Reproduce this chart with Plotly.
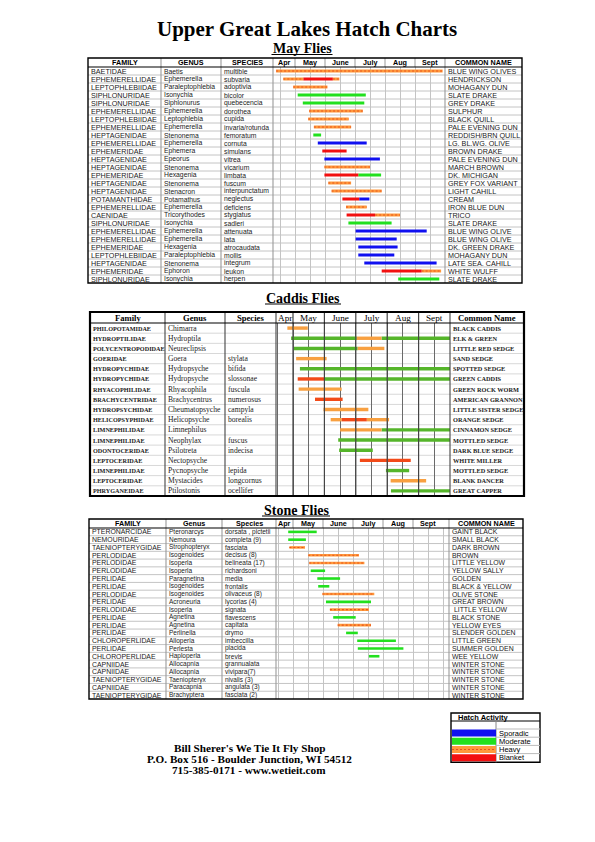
import plotly.graph_objects as go

W, H = 595, 842
OFF = 8  # default page body margin of the browser

# ---------------- DATA ----------------
month_labels = ["Apr", "May", "June", "July", "Aug", "Sept"]
month_centers = [4.62, 5.5, 6.5, 7.5, 8.5, 9.5]

level_names = ["Sporadic", "Moderate", "Heavy", "Blanket"]

may_family = ["BAETIDAE", "EPHEMERELLIDAE", "LEPTOPHLEBIIDAE", "SIPHLONURIDAE", "SIPHLONURIDAE",
              "EPHEMERELLIDAE", "LEPTOPHLEBIIDAE", "EPHEMERELLIDAE", "HEPTAGENIDAE", "EPHEMERELLIDAE",
              "EPHEMERIDAE", "HEPTAGENIDAE", "HEPTAGENIDAE", "EPHEMERIDAE", "HEPTAGENIDAE",
              "HEPTAGENIDAE", "POTAMANTHIDAE", "EPHEMERELLIDAE", "CAENIDAE", "SIPHLONURIDAE",
              "EPHEMERELLIDAE", "EPHEMERELLIDAE", "EPHEMERIDAE", "LEPTOPHLEBIIDAE", "HEPTAGENIDAE",
              "EPHEMERIDAE", "SIPHLONURIDAE"]
may_genus = ["Baetis", "Ephemerella", "Paraleptophlebia", "Isonychia", "Siphlonurus",
             "Ephemerella", "Leptophlebia", "Ephemerella", "Stenonema", "Ephemerella",
             "Ephemera", "Epeorus", "Stenonema", "Hexagenia", "Stenonema",
             "Stenacron", "Potamathus", "Ephemerella", "Tricorythodes", "Isonychia",
             "Ephemerella", "Ephemerella", "Hexagenia", "Paraleptophlebia", "Stenonema",
             "Ephoron", "Isonychia"]
may_species = ["multible", "subvaria", "adoptivia", "bicolor", "quebecencia",
               "dorothea", "cupida", "invaria/rotunda", "femoratum", "cornuta",
               "simulans", "vitrea", "vicarium", "limbata", "fuscum",
               "interpunctatum", "neglectus", "deficiens", "stygiatus", "sadleri",
               "attenuata", "lata", "atrocaudata", "mollis", "integrum",
               "leukon", "herpen"]
may_common = ["BLUE WING OLIVES", "HENDRICKSON", "MOHAGANY DUN", "SLATE DRAKE", "GREY DRAKE",
              "SULPHUR", "BLACK QUILL", "PALE EVENING DUN", "REDDISH/BRN QUILL", "LG. BL.WG. OLIVE",
              "BROWN DRAKE", "PALE EVENING DUN", "MARCH BROWN", "DK. MICHIGAN", "GREY FOX VARIANT",
              "LIGHT CAHILL", "CREAM", "IRON BLUE DUN", "TRICO", "SLATE DRAKE",
              "BLUE WING OLIVE", "BLUE WING OLIVE", "DK. GREEN DRAKE", "MOHAGANY DUN", "LATE SEA. CAHILL",
              "WHITE WULFF", "SLATE DRAKE"]
# (start month, end month, level)  S=Sporadic M=Moderate H=Heavy B=Blanket
may_bars = [
    [(4.37, 9.92, "H")],
    [(4.61, 5.28, "H"), (5.28, 6.26, "B"), (6.26, 6.48, "H")],
    [(4.94, 6.08, "H")],
    [(5.09, 7.36, "M")],
    [(5.26, 7.31, "M")],
    [(5.47, 7.26, "H")],
    [(5.44, 6.79, "H")],
    [(5.63, 6.87, "H")],
    [(5.61, 5.87, "M")],
    [(5.76, 7.39, "S")],
    [(5.91, 6.72, "B")],
    [(5.98, 7.83, "S")],
    [(5.98, 7.50, "H")],
    [(5.98, 7.11, "B"), (7.11, 7.87, "M")],
    [(6.11, 6.87, "H")],
    [(6.22, 7.89, "H")],
    [(6.58, 7.14, "B"), (7.14, 7.48, "S")],
    [(6.70, 7.39, "H")],
    [(6.72, 7.67, "B"), (7.67, 8.50, "H")],
    [(6.78, 8.22, "M")],
    [(7.02, 9.39, "S")],
    [(7.02, 8.39, "S")],
    [(7.11, 8.42, "S")],
    [(7.11, 8.31, "S")],
    [(7.31, 9.72, "S")],
    [(7.89, 9.22, "B"), (9.22, 9.87, "H")],
    [(8.44, 9.81, "M")],
]

caddis_family = ["PHILOPOTAMIDAE", "HYDROPTILIDAE", "POLYCENTROPODIDAE", "GOERIDAE", "HYDROPYCHIDAE",
                 "HYDROPYCHIDAE", "RHYACOPHILIDAE", "BRACHYCENTRIDAE", "HYDROPSYCHIDAE", "HELICOPSYPHIDAE",
                 "LIMNEPHILIDAE", "LIMNEPHILIDAE", "ODONTOCERIDAE", "LEPTOCERIDAE", "LIMNEPHILIDAE",
                 "LEPTOCERIDAE", "PHRYGANEIDAE"]
caddis_genus = ["Chimarra", "Hydroptila", "Neureclipsis", "Goera", "Hydropsyche",
                "Hydropsyche", "Rhyacophila", "Brachycentrus", "Cheumatopsyche", "Helicopsyche",
                "Limnephilus", "Neophylax", "Psilotreta", "Nectopsyche", "Pycnopsyche",
                "Mystacides", "Ptilostonis"]
caddis_species = ["", "", "", "stylata", "bifida",
                  "slossonae", "fuscula", "numerosus", "campyla", "borealis",
                  "", "fuscus", "indecisa", "", "lepida",
                  "longcornus", "ocellifer"]
caddis_common = ["BLACK CADDIS", "ELK & GREEN", "LITTLE RED SEDGE", "SAND SEDGE", "SPOTTED SEDGE",
                 "GREEN CADDIS", "GREEN ROCK WORM", "AMERICAN GRANNON", "LITTLE SISTER SEDGE", "ORANGE SEDGE",
                 "CINNAMON SEDGE", "MOTTLED SEDGE", "DARK BLUE SEDGE", "WHITE MILLER", "MOTTLED SEDGE",
                 "BLANK DANCER", "GREAT CAPPER"]
caddis_bars = [
    [(4.82, 5.47, "H")],
    [(4.94, 7.03, "M"), (7.03, 7.82, "H"), (7.82, 10.0, "M")],
    [(5.03, 7.06, "M"), (7.06, 7.91, "H")],
    [(5.10, 6.07, "H")],
    [(5.22, 10.0, "M")],
    [(5.15, 6.00, "B"), (6.00, 10.0, "M")],
    [(5.18, 6.55, "H")],
    [(5.70, 6.58, "B")],
    [(5.97, 7.40, "H")],
    [(6.20, 6.55, "H"), (6.55, 7.35, "B"), (7.35, 8.06, "H")],
    [(6.50, 7.82, "H"), (7.82, 10.0, "M")],
    [(6.44, 10.0, "M")],
    [(6.47, 7.54, "M")],
    [(7.13, 8.75, "B")],
    [(7.96, 8.70, "M")],
    [(8.11, 9.24, "H")],
    [(8.12, 10.0, "M")],
]

stone_family = ["PTERONARCIDAE", "NEMOURIDAE", "TAENIOPTERYGIDAE", "PERLODIDAE", "PERLODIDAE",
                "PERLODIDAE", "PERLIDAE", "PERLIDAE", "PERLODIDAE", "PERLIDAE",
                "PERLODIDAE", "PERLIDAE", "PERLIDAE", "PERLIDAE", "CHLOROPERLIDAE",
                "PERLIDAE", "CHLOROPERLIDAE", "CAPNIIDAE", "CAPNIIDAE", "TAENIOPTERYGIDAE",
                "CAPNIIDAE", "TAENIOPTERYGIDAE"]
stone_genus = ["Pteronarcys", "Nemoura", "Strophopteryx", "Isogenoides", "Isoperla",
               "Isoperla", "Paragnetina", "Isogenoides", "Isogenoides", "Acroneuria",
               "Isoperla", "Agnetina", "Agnetina", "Perlinella", "Alloperla",
               "Perlesta", "Haploperla", "Allocapnia", "Allocapnia", "Taeniopteryx",
               "Paracapnia", "Brachyptera"]
stone_species = ["dorsata , pictetii", "completa (9)", "fasciata", "decisus (8)", "belineata (17)",
                 "richardsoni", "media", "frontalis", "olivaceus (8)", "lycorias (4)",
                 "signata", "flavescens", "capitata", "drymo", "imbeccilla",
                 "placida", "brevis", "grannualata", "vivipara(7)", "nivalis (3)",
                 "angulata (3)", "fasciata (2)"]
stone_common = ["GAINT BLACK", "SMALL BLACK", "DARK BROWN", "BROWN", "LITTLE YELLOW",
                "YELLOW SALLY", "GOLDEN", "BLACK & YELLOW", "OLIVE STONE", "GREAT BROWN",
                " LITTLE YELLOW", "BLACK STONE", "YELLOW EYES", "SLENDER GOLDEN", "LITTLE GREEN",
                "SUMMER GOLDEN", "WEE YELLOW", "WINTER STONE", "WINTER STONE", "WINTER STONE",
                "WINTER STONE", "WINTER STONE"]
stone_bars = [
    [(4.84, 5.79, "M")],
    [(4.84, 5.43, "M")],
    [(4.88, 5.40, "H")],
    [(5.51, 7.20, "H")],
    [(5.54, 7.38, "H")],
    [(5.59, 6.07, "M")],
    [(5.81, 6.57, "M")],
    [(5.84, 6.21, "M")],
    [(5.98, 7.71, "H")],
    [(6.10, 7.60, "M")],
    [(6.23, 7.53, "H")],
    [(6.34, 7.09, "M")],
    [(6.49, 7.60, "H")],
    [(6.77, 7.16, "M")],
    [(7.14, 8.43, "M")],
    [(7.16, 8.68, "M")],
    [(7.53, 7.88, "M")],
    [], [], [], [], [],
]

# ---------------- STYLE / LAYOUT ----------------
def fx(x):
    return (x - OFF) / W

def fy(y):
    return 1 - (y - OFF) / H

SANS = "Liberation Sans, Arial, sans-serif"
SERIF = "Liberation Serif, Times New Roman, serif"

tables = [
    dict(family=may_family, genus=may_genus, species=may_species, common=may_common,
         bars=may_bars, left=88, right=522, top=58, hb=67, rowh=8.0,
         cols=[161, 221, 273], mstart=295, mend=445, mpx=30.0,
         font=SANS, fam_size=7.2, gen_size=6.8, com_size=7.2, hfont=SANS, hsize=7.2, upper_bold=False,
         headers=["FAMILY", "GENUS", "SPECIES", "COMMON NAME"], bold_months=True,
         colors=dict(S="#1010F0", M="#22E01E", H="#FF9A3C", B="#F21010"), pattern=True,
         gridc="#c4c4c4", rowc="#c4c4c4", colc="#9a9a9a", lw=3.0, border=1.4),
    dict(family=caddis_family, genus=caddis_genus, species=caddis_species, common=caddis_common,
         bars=caddis_bars, left=90, right=524, top=312, hb=323, rowh=(496 - 323) / 17,
         cols=[165, 225, 276], mstart=293, mend=450, mpx=31.4,
         font=SERIF, fam_size=6.2, gen_size=7.6, com_size=6.3, hfont=SERIF, hsize=8.6, upper_bold=True,
         headers=["Family", "Genus", "Species", "Common Name"], bold_months=False,
         colors=dict(S="#1010F0", M="#55B52A", H="#F8A040", B="#F24A18"), pattern=False,
         gridc="#6a6a6a", rowc="#d8d8d8", colc="#444444", lw=3.4, border=2.2),
    dict(family=stone_family, genus=stone_genus, species=stone_species, common=stone_common,
         bars=stone_bars, left=89, right=523, top=519, hb=528, rowh=(699 - 528) / 22,
         cols=[166, 222, 276], mstart=293, mend=449, mpx=30.0,
         font=SANS, fam_size=6.9, gen_size=6.5, com_size=6.9, hfont=SANS, hsize=7.2, upper_bold=False,
         headers=["FAMILY", "Genus", "Species", "COMMON NAME"], bold_months=True,
         colors=dict(S="#1010F0", M="#22E01E", H="#FF9A3C", B="#F21010"), pattern=True,
         gridc="#c4c4c4", rowc="#c4c4c4", colc="#9a9a9a", lw=2.6, border=1.4),
]

fig = go.Figure()
shapes = []
annotations = []
layout_axes = {}

for ti, t in enumerate(tables):
    n = len(t["family"])
    bottom = t["hb"] + n * t["rowh"]
    suffix = "" if ti == 0 else str(ti + 1)
    xa, ya = "x" + suffix, "y" + suffix
    mleft = t["cols"][2]
    r0 = 5 - (t["mstart"] - mleft) / t["mpx"]
    r1 = 5 + (t["mend"] - t["mstart"]) / t["mpx"]
    layout_axes["xaxis" + suffix] = dict(
        domain=[fx(mleft), fx(t["mend"])], range=[r0, r1], anchor=ya,
        showgrid=True, gridcolor=t["gridc"], gridwidth=1, tick0=4.5, dtick=0.5,
        showticklabels=False, zeroline=False, showline=False, ticks="", fixedrange=True)
    layout_axes["yaxis" + suffix] = dict(
        domain=[fy(bottom), fy(t["hb"])], range=[n - 0.5, -0.5], anchor=xa,
        showgrid=False, showticklabels=False, zeroline=False, showline=False, ticks="", fixedrange=True)

    # bars grouped by activity level
    for lev in ["S", "M", "H", "B"]:
        xs, ys = [], []
        for i, segs in enumerate(t["bars"]):
            for (s, e, l) in segs:
                if l == lev:
                    xs += [s, e, None]
                    ys += [i, i, None]
        if not xs:
            continue
        fig.add_trace(go.Scatter(x=xs, y=ys, xaxis=xa, yaxis=ya, mode="lines",
                                 line=dict(color=t["colors"][lev], width=t["lw"]),
                                 hoverinfo="skip", showlegend=False))
        if lev == "H" and t["pattern"]:
            fig.add_trace(go.Scatter(x=xs, y=ys, xaxis=xa, yaxis=ya, mode="lines",
                                     line=dict(color="#E8521E", width=1.1, dash="2px,2px"),
                                     hoverinfo="skip", showlegend=False))

    # row lines
    for i in range(n - 1):
        shapes.append(dict(type="line", xref="paper", yref=ya, x0=fx(t["left"]), x1=fx(t["right"]),
                           y0=i + 0.5, y1=i + 0.5, line=dict(color=t["rowc"], width=1), layer="below"))
    # column lines
    for c in t["cols"] + [t["mend"]]:
        shapes.append(dict(type="line", xref="paper", yref="paper", x0=fx(c), x1=fx(c),
                           y0=fy(t["top"]), y1=fy(bottom), line=dict(color=t["colc"], width=1.1)))
    # month separators in header (and body for caddis)
    for m in range(5, 10):
        shapes.append(dict(type="line", xref=xa, yref="paper", x0=m, x1=m,
                           y0=fy(t["top"]), y1=fy(t["hb"] if ti != 1 else bottom),
                           line=dict(color=t["colc"], width=1.2 if ti == 1 else 1)))
    # header bottom line
    shapes.append(dict(type="line", xref="paper", yref="paper", x0=fx(t["left"]), x1=fx(t["right"]),
                       y0=fy(t["hb"]), y1=fy(t["hb"]), line=dict(color="black", width=1.2)))
    # border
    shapes.append(dict(type="rect", xref="paper", yref="paper", x0=fx(t["left"]), x1=fx(t["right"]),
                       y0=fy(t["top"]), y1=fy(bottom), line=dict(color="black", width=t["border"])))

    # header text
    hy = fy((t["top"] + t["hb"]) / 2)
    hcenters = [(t["left"] + t["cols"][0]) / 2, (t["cols"][0] + t["cols"][1]) / 2,
                (t["cols"][1] + t["cols"][2]) / 2, (t["mend"] + t["right"]) / 2]
    for txt, cx in zip(t["headers"], hcenters):
        annotations.append(dict(text="<b>" + txt + "</b>", x=fx(cx), y=hy, xref="paper", yref="paper",
                                showarrow=False, xanchor="center", yanchor="middle", borderpad=0,
                                font=dict(family=t["hfont"], size=t["hsize"], color="black")))
    for lab, mc in zip(month_labels, month_centers):
        if lab == "Apr":
            mc = (r0 + 5) / 2
        annotations.append(dict(text=("<b>" + lab + "</b>") if t["bold_months"] else lab,
                                x=mc, y=hy, xref=xa, yref="paper", showarrow=False,
                                xanchor="center", yanchor="middle", borderpad=0,
                                font=dict(family=t["hfont"], size=t["hsize"] + (0 if t["bold_months"] else 0.6),
                                          color="black")))

    # row text
    for i in range(n):
        fam = t["family"][i]
        com = t["common"][i]
        if t["upper_bold"]:
            fam = "<b>" + fam + "</b>"
            com = "<b>" + com + "</b>"
        for txt, cx, sz in [(fam, t["left"] + 1.5, t["fam_size"]),
                            (t["genus"][i], t["cols"][0] + 2, t["gen_size"]),
                            (t["species"][i], t["cols"][1] + 2, t["gen_size"]),
                            (com, t["mend"] + 2, t["com_size"])]:
            if not txt:
                continue
            annotations.append(dict(text=txt, x=fx(cx), y=i, xref="paper", yref=ya,
                                    showarrow=False, xanchor="left", yanchor="middle", borderpad=0,
                                    font=dict(family=t["font"], size=sz, color="#1a1a1a")))

# ---------------- titles ----------------
annotations.append(dict(text="<b>Upper Great Lakes Hatch Charts</b>", x=fx(307), y=fy(29), xref="paper", yref="paper",
                        showarrow=False, xanchor="center", yanchor="middle", borderpad=0,
                        font=dict(family=SERIF, size=21, color="black")))
for txt, cx, cy, w in [("May Flies", 302, 48.5, 61), ("Caddis Flies", 303, 298, 76), ("Stone Flies", 296, 510, 68)]:
    annotations.append(dict(text="<b>" + txt + "</b>", x=fx(cx), y=fy(cy), xref="paper", yref="paper",
                            showarrow=False, xanchor="center", yanchor="middle", borderpad=0,
                            font=dict(family=SERIF, size=14, color="black")))
    shapes.append(dict(type="line", xref="paper", yref="paper", x0=fx(cx - w / 2), x1=fx(cx + w / 2),
                       y0=fy(cy + 6), y1=fy(cy + 6), line=dict(color="black", width=1.2)))

# ---------------- footer ----------------
for txt, cy in [("Bill Sherer's We Tie It Fly Shop", 747.5), ("P.O. Box 516 - Boulder Junction, WI 54512", 758.5),
                ("715-385-0171 - www.wetieit.com", 769.5)]:
    annotations.append(dict(text="<b>" + txt + "</b>", x=fx(249), y=fy(cy), xref="paper", yref="paper",
                            showarrow=False, xanchor="center", yanchor="middle", borderpad=0,
                            font=dict(family=SERIF, size=11.2, color="black")))

# ---------------- legend box ----------------
lg_l, lg_r, lg_t = 451, 540, 713
lg_hb = 721
lg_rows_top = 729
lg_rowh = 8.2
sw_r = 496
lg_b = lg_rows_top + 4 * lg_rowh + 0.5
shapes.append(dict(type="rect", xref="paper", yref="paper", x0=fx(lg_l), x1=fx(lg_r), y0=fy(lg_t),
                   y1=fy(lg_b), line=dict(color="black", width=1.4)))
shapes.append(dict(type="line", xref="paper", yref="paper", x0=fx(lg_l), x1=fx(lg_r), y0=fy(lg_hb), y1=fy(lg_hb),
                   line=dict(color="black", width=1)))
shapes.append(dict(type="line", xref="paper", yref="paper", x0=fx(sw_r), x1=fx(sw_r), y0=fy(lg_hb),
                   y1=fy(lg_b), line=dict(color="#888", width=1)))
annotations.append(dict(text="<b>Hatch Activity</b>", x=fx(483), y=fy((lg_t + lg_hb) / 2),
                        xref="paper", yref="paper", showarrow=False, xanchor="center", yanchor="middle",
                        borderpad=0, font=dict(family=SANS, size=7.5, color="black")))
leg_colors = {"Sporadic": "#1010F0", "Moderate": "#22E01E", "Heavy": "#FF9A3C", "Blanket": "#F21010"}
for k, lab in enumerate(level_names):
    y0 = lg_rows_top + k * lg_rowh
    shapes.append(dict(type="rect", xref="paper", yref="paper", x0=fx(lg_l + 1), x1=fx(sw_r),
                       y0=fy(y0 + 0.6), y1=fy(y0 + lg_rowh - 0.6), line=dict(width=0),
                       fillcolor=leg_colors[lab]))
    if lab == "Heavy":
        shapes.append(dict(type="line", xref="paper", yref="paper", x0=fx(lg_l + 1), x1=fx(sw_r),
                           y0=fy(y0 + lg_rowh / 2), y1=fy(y0 + lg_rowh / 2),
                           line=dict(color="#E8521E", width=1.2, dash="2px,2px")))
    shapes.append(dict(type="line", xref="paper", yref="paper", x0=fx(sw_r), x1=fx(lg_r),
                       y0=fy(y0), y1=fy(y0), line=dict(color="#bbb", width=1)))
    annotations.append(dict(text=lab, x=fx(sw_r + 2), y=fy(y0 + lg_rowh / 2), xref="paper", yref="paper",
                            showarrow=False, xanchor="left", yanchor="middle", borderpad=0,
                            font=dict(family=SANS, size=7.5, color="black")))

fig.update_layout(width=W, height=H, margin=dict(l=0, r=0, t=0, b=0), autosize=False,
                  paper_bgcolor="white", plot_bgcolor="white", showlegend=False,
                  shapes=shapes, annotations=annotations, **layout_axes)

fig.write_html("out.html")
